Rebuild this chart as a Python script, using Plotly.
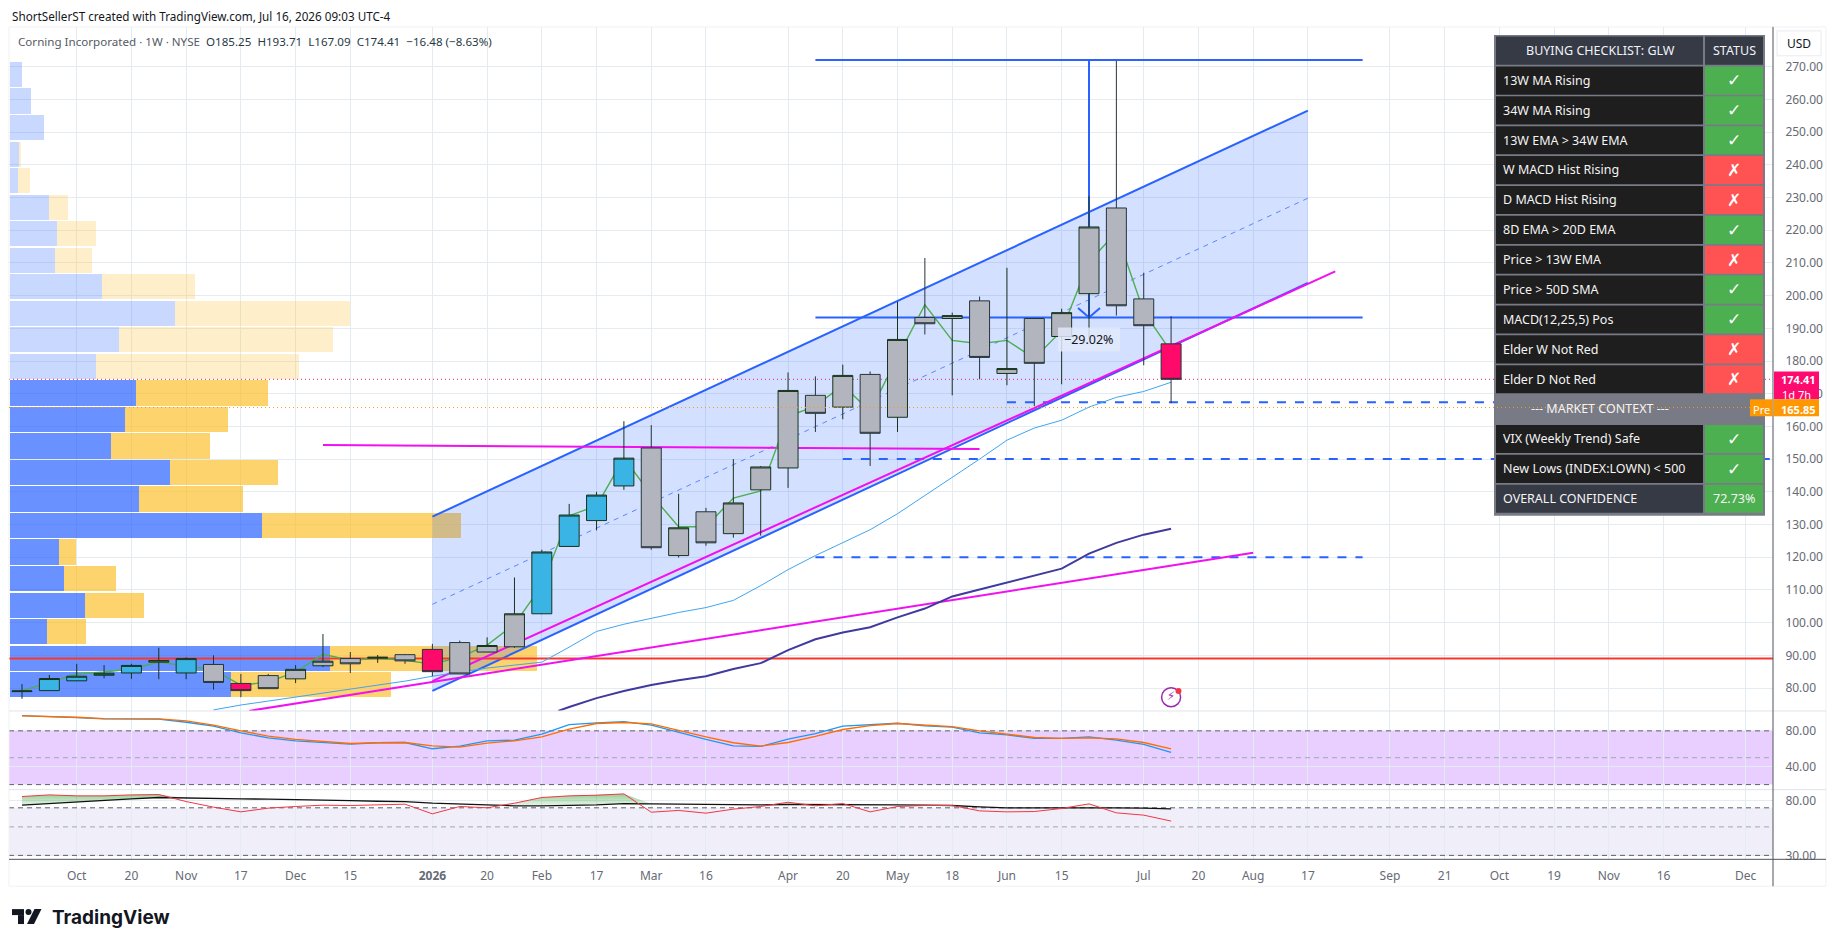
import numpy as np
import plotly.graph_objects as go

W, H = 1819, 929  # page has an 8px body margin
FONT = "Noto Sans"
GRID = "#e4ecf2"
TICK = "#666a75"
BLUE = "#2962ff"
MAGENTA = "#f010f0"

# weekly candles, index 0 is Sep 2025
opens = [78.9, 79.2, 82.2, 83.9, 84.6, 87.9, 84.6, 87.2, 81.4, 83.8, 82.8, 86.8, 89.0, 89.1, 90.2,
         91.8, 93.9, 91.0, 92.6, 102.7, 123.3, 131.2, 141.8, 153.4, 120.5, 133.9, 127.2, 140.6,
         147.3, 169.5, 165.9, 175.9, 162.8, 193.3, 193.0, 198.4, 176.2, 193.0, 187.5, 200.6,
         226.8, 199.0, 185.25]
closes = [79.1, 82.9, 83.6, 84.5, 86.9, 88.4, 89.0, 81.7, 79.2, 79.8, 85.7, 88.2, 87.4, 89.4, 88.3,
          85.0, 84.3, 93.0, 102.7, 121.6, 132.9, 139.0, 150.3, 122.9, 129.0, 124.4, 136.6, 147.6,
          171.0, 164.0, 175.6, 157.9, 186.6, 191.4, 193.9, 181.1, 177.7, 179.3, 194.8, 221.0,
          196.9, 190.8, 174.41]
highs = [81.2, 84.0, 87.4, 87.0, 87.4, 92.3, 89.4, 90.0, 84.3, 84.3, 87.0, 96.5, 91.0, 90.1, 90.4,
         93.5, 94.5, 95.5, 113.8, 122.3, 136.3, 140.0, 161.6, 160.4, 139.4, 135.1, 150.0, 147.9,
         176.5, 175.3, 178.9, 176.8, 198.1, 211.5, 194.8, 199.7, 208.5, 193.0, 196.0, 230.4,
         271.8, 207.0, 193.71]
lows = [76.7, 79.2, 82.1, 83.0, 82.8, 82.7, 82.7, 79.5, 77.2, 79.8, 81.5, 86.4, 84.6, 87.7, 87.4,
        83.6, 84.3, 91.0, 92.3, 102.6, 123.3, 128.2, 140.6, 122.3, 119.9, 123.5, 126.0, 126.6,
        141.2, 158.3, 162.2, 147.9, 158.3, 188.1, 169.5, 174.4, 172.6, 166.2, 172.9, 186.9,
        193.9, 178.7, 167.09]
impulse = ["g", "b", "b", "b", "b", "g", "b", "g", "p", "g", "g", "g", "g", "g", "g", "p", "g", "g",
           "g", "b", "b", "b", "b", "g", "g", "g", "g", "g", "g", "g", "g", "g", "g", "g", "g", "g",
           "g", "g", "g", "g", "g", "g", "p"]

zigzag = [79.1, 81.8, 84.3, 84.9, 85.8, 87.9, 86.7, 85.5, 80.9, 81.8, 84.9, 90.3, 88.5, 89.1, 88.5,
          87.3, 89.4, 93.1, 99.5, 111.3, 132.7, 135.7, 150.3, 139.1, 129.3, 129.3, 138.1, 140.3,
          163.1, 166.2, 172.6, 164.6, 181.1, 197.2, 186.3, 185.3, 186.3, 180.8, 189.3, 210.3,
          219.4, 195.1, 182.9]
ma_fast = [73.3, 74.8, 76.0, 77.2, 78.5, 79.7, 80.9, 82.1, 83.6, 84.9, 86.1, 87.0, 87.9, 92.5, 97.3,
           99.5, 101.3, 103.1, 104.6, 106.8, 111.3, 116.2, 120.5, 124.4, 128.4, 133.3, 138.8,
           144.5, 150.0, 155.8, 159.5, 161.9, 165.9, 168.9, 170.7, 173.5]
ma_slow_x = [19.6, 20, 21, 22, 23, 24, 25, 26, 27, 28, 29, 30, 31, 32, 33, 34, 35, 36, 37, 38, 39, 40,
             41, 42]
ma_slow = [73.0, 74.2, 76.9, 79.1, 80.9, 82.4, 83.6, 85.8, 87.6, 91.6, 94.9, 97.0, 98.6, 101.6, 104.3,
           108.0, 110.1, 112.3, 114.4, 116.5, 121.1, 124.4, 126.9, 128.7]

# volume profile rows, top row first
vp_price = [267.6, 259.5, 251.4, 243.2, 235.1, 227.0, 218.9, 210.8, 202.7, 194.6, 186.5, 178.3,
            170.2, 162.1, 154.0, 145.9, 137.8, 129.7, 121.6, 113.4, 105.3, 97.2, 89.1, 81.0]
vp_up = [12, 21, 34, 8.6, 8, 39, 47, 45, 92, 165, 109, 86, 126, 115, 101, 160, 129, 252, 49, 54, 75,
         37, 320, 221]
vp_down = [0, 0, 0, 2.4, 12, 19, 39, 37, 93, 175, 214, 203, 132, 103, 99, 108, 104, 199, 17, 52, 59,
           39, 207, 160]

# oscillators
stoch_k = [97.0, 96.3, 94.8, 93.3, 93.0, 93.0, 89.6, 85.2, 77.8, 72.2, 68.9, 67.0, 65.2, 66.7, 67.0,
           60.0, 63.0, 68.9, 69.6, 76.3, 87.0, 88.9, 90.4, 86.3, 78.2, 70.4, 63.3, 62.6, 70.7, 77.0,
           85.2, 87.0, 88.5, 85.6, 84.1, 77.8, 75.6, 71.5, 71.5, 73.3, 69.6, 64.8, 55.9]
stoch_d = [96.7, 96.3, 95.2, 93.7, 93.3, 93.3, 91.1, 86.3, 80.0, 74.1, 70.4, 67.8, 65.9, 66.7, 67.0,
           63.3, 61.8, 66.3, 68.9, 73.3, 81.9, 88.2, 89.3, 87.8, 80.4, 73.3, 66.7, 63.0, 67.0, 73.7,
           81.5, 85.9, 88.2, 86.7, 84.8, 80.0, 76.3, 72.6, 71.5, 72.2, 71.1, 67.0, 60.0]
rsi = [83.7, 85.2, 84.3, 84.3, 85.2, 85.5, 79.1, 74.0, 69.7, 73.1, 74.6, 75.8, 75.5, 76.1, 76.7,
       67.9, 74.6, 73.4, 77.6, 82.8, 84.3, 84.9, 86.1, 69.4, 71.0, 68.5, 72.2, 74.6, 78.5, 75.2,
       77.3, 69.7, 74.6, 75.5, 75.5, 70.6, 69.7, 70.0, 72.8, 77.0, 68.8, 66.7, 61.3]
rsi_ma = [75.8, 77.3, 78.8, 80.7, 81.6, 82.8, 82.2, 81.9, 81.6, 81.3, 81.0, 80.3, 80.0, 79.4, 79.1,
          77.6, 76.7, 75.8, 75.2, 75.2, 75.5, 76.1, 77.3, 77.0, 76.7, 76.4, 76.1, 76.1, 76.4, 76.4,
          76.7, 76.4, 76.1, 75.8, 75.5, 74.3, 73.4, 73.4, 73.4, 74.0, 73.4, 73.1, 72.5]

time_ticks = [2, 4, 6, 8, 10, 12, 15, 17, 19, 21, 23, 25, 28, 30, 32, 34, 36, 38, 41, 43, 45, 47,
              50, 52, 54, 56, 58, 60, 63]
time_labels = ["Oct", "20", "Nov", "17", "Dec", "15", "<b>2026</b>", "20", "Feb", "17", "Mar", "16",
               "Apr", "20", "May", "18", "Jun", "15", "Jul", "20", "Aug", "17", "Sep", "21", "Oct",
               "19", "Nov", "16", "Dec"]
price_ticks = list(range(80, 280, 10))

check_labels = ["13W MA Rising", "34W MA Rising", "13W EMA > 34W EMA", "W MACD Hist Rising",
                "D MACD Hist Rising", "8D EMA > 20D EMA", "Price > 13W EMA", "Price > 50D SMA",
                "MACD(12,25,5) Pos", "Elder W Not Red", "Elder D Not Red", "--- MARKET CONTEXT ---",
                "VIX (Weekly Trend) Safe", "New Lows (INDEX:LOWN) < 500", "OVERALL CONFIDENCE"]
check_status = ["✓", "✓", "✓", "✗", "✗", "✓", "✗", "✓", "✓", "✗", "✗", "", "✓", "✓", "72.73%"]


def px(x):
    return (x - 8) / W


def py(y):
    return 1 - (y - 8) / H


def box(x0, y0, x1, y1, fill, line=None, layer="above"):
    return dict(type="rect", xref="paper", yref="paper", x0=px(x0), x1=px(x1), y0=py(y0), y1=py(y1),
                fillcolor=fill, line=dict(color=line or fill, width=1 if line else 0), layer=layer)


def rule(x0, y0, x1, y1, color, width=1, layer="above", dash="solid"):
    return dict(type="line", xref="paper", yref="paper", x0=px(x0), x1=px(x1), y0=py(y0), y1=py(y1),
                line=dict(color=color, width=width, dash=dash), layer=layer)


def label(x, y, text, size=12, color=TICK, anchor="center", family=FONT):
    return dict(xref="paper", yref="paper", x=px(x), y=py(y), text=text, showarrow=False,
                xanchor=anchor, yanchor="middle", font=dict(family=family, size=size, color=color))


fig = go.Figure()

# volume profile sits at the very back
vp_light = [p > closes[-1] for p in vp_price]
fig.add_trace(go.Bar(y=vp_price, x=vp_up, orientation="h", width=7.7, xaxis="x", yaxis="y",
                     marker=dict(line_width=0, color=["rgba(41,98,255,0.25)" if d else "rgba(41,98,255,0.7)" for d in vp_light])))
fig.add_trace(go.Bar(y=vp_price, x=vp_down, orientation="h", width=7.7, xaxis="x", yaxis="y",
                     marker=dict(line_width=0, color=["rgba(251,192,45,0.25)" if d else "rgba(251,192,45,0.7)" for d in vp_light])))


def overlay_line(x, y, color, width=1, dash="solid"):
    fig.add_trace(go.Scatter(x=x, y=y, mode="lines", xaxis="x2", yaxis="y",
                             line=dict(color=color, width=width, dash=dash)))


# regression channel
fig.add_trace(go.Scatter(x=[15, 47, 47, 15, 15], y=[132.4, 256.6, 203.9, 79.1, 132.4], mode="lines",
                         xaxis="x2", yaxis="y", fill="toself", fillcolor="rgba(41,98,255,0.2)",
                         line=dict(width=0)))
overlay_line([15, 47], [132.4, 256.6], BLUE, 2)
overlay_line([15, 47], [79.1, 203.9], BLUE, 2)
overlay_line([15, 47], [105.6, 229.8], "#5b86ff", 1, "5px 5px")

overlay_line([-0.475, 64], [89.0, 89.0], "#f9382d", 2)
overlay_line([-0.475, 64], [174.41, 174.41], "#f0206e", 1, "1px 3px")
overlay_line([29, 49], [272.1, 272.1], BLUE, 2)
overlay_line([29, 49], [193.3, 193.3], BLUE, 2)
overlay_line([39, 39], [272.1, 193.3], BLUE, 2)
overlay_line([38.6, 39, 39.4], [196.2, 193.3, 196.2], BLUE, 2)
overlay_line([36, 60], [167.4, 167.4], BLUE, 2, "9px 9px")
overlay_line([30, 64], [150.0, 150.0], BLUE, 2, "9px 9px")
overlay_line([29, 49], [120.0, 120.0], BLUE, 2, "9px 9px")

overlay_line([15, 48], [82.1, 207.4], MAGENTA, 2)
overlay_line([11, 35], [154.3, 153.1], MAGENTA, 2)
overlay_line([8.3, 45], [73.0, 121.4], MAGENTA, 2)

overlay_line(list(range(7, 43)), ma_fast, "#42a5f0", 1)
overlay_line(ma_slow_x, ma_slow, "#3f3a9e", 2)
overlay_line(list(range(43)), zigzag, "#4caf50", 1.4)

# candles, one trace per body colour
for key, fill in (("g", "#b2b5be"), ("b", "#3ab4e4"), ("p", "#ff0a6a")):
    idx = [i for i, c in enumerate(impulse) if c == key]
    fig.add_trace(go.Candlestick(
        x=idx,
        open=[opens[i] for i in idx], high=[highs[i] for i in idx],
        low=[lows[i] for i in idx], close=[closes[i] for i in idx],
        xaxis="x3", yaxis="y", whiskerwidth=0,
        increasing=dict(fillcolor=fill, line=dict(color="#16331c", width=1)),
        decreasing=dict(fillcolor=fill, line=dict(color="#26343a", width=1)),
    ))

# earnings style marker under the last bar
fig.add_trace(go.Scatter(x=[42], y=[77.2], mode="markers+text", xaxis="x2", yaxis="y", text=["⚡"],
                         textposition="middle center",
                         textfont=dict(family="DejaVu Sans", size=12, color="#9c27b0"),
                         marker=dict(size=19, color="white", line=dict(color="#9c27b0", width=1.5))))
fig.add_trace(go.Scatter(x=[42.27], y=[79.1], mode="markers", xaxis="x2", yaxis="y",
                         marker=dict(size=6, color="#f23645")))

# stochastic pane
x_all = list(range(43))
fig.add_trace(go.Scatter(x=x_all, y=stoch_k, mode="lines", xaxis="x4", yaxis="y2",
                         line=dict(color="#2196f3", width=1.3)))
fig.add_trace(go.Scatter(x=x_all, y=stoch_d, mode="lines", xaxis="x4", yaxis="y2",
                         line=dict(color="#ff6d00", width=1.3)))

# rsi pane, green where rsi is above its average
fig.add_trace(go.Scatter(x=x_all, y=rsi_ma, mode="lines", xaxis="x5", yaxis="y3",
                         line=dict(color="#111111", width=1.3)))
fig.add_trace(go.Scatter(x=x_all, y=np.maximum(rsi, rsi_ma), mode="lines", xaxis="x5", yaxis="y3",
                         fill="tonexty", line=dict(width=0),
                         fillgradient=dict(type="vertical", colorscale=[[0, "rgba(76,175,80,0)"], [1, "rgba(76,175,80,0.6)"]])))
fig.add_trace(go.Scatter(x=x_all, y=rsi, mode="lines", xaxis="x5", yaxis="y3",
                         line=dict(color="#f23645", width=1)))

# price, stochastic and rsi pane geometry in page pixels
x_domain = [px(9), px(1773)]
idx_range = [-0.475, 64]
x_common = dict(domain=x_domain, range=idx_range, tickmode="array", tickvals=time_ticks,
                showgrid=True, gridcolor=GRID, gridwidth=1, zeroline=False, showticklabels=False,
                fixedrange=True)
y_common = dict(side="right", gridcolor=GRID, gridwidth=1, zeroline=False, ticks="outside",
                ticklen=9, tickcolor="rgba(0,0,0,0)", tickformat=".2f",
                tickfont=dict(family=FONT, size=12, color=TICK), fixedrange=True)

fig.update_layout(
    width=W, height=H, margin=dict(l=0, r=0, t=0, b=0),
    paper_bgcolor="white", plot_bgcolor="white", showlegend=False, barmode="stack",
    boxgap=0.27, boxgroupgap=0,
    xaxis=dict(domain=x_domain, range=[-1, 1763], visible=False, fixedrange=True),
    xaxis2=dict(x_common, overlaying="x", anchor="y"),
    xaxis3=dict(x_common, overlaying="x", anchor="y", visible=False, showgrid=False,
                rangeslider=dict(visible=False)),
    xaxis4=dict(x_common, anchor="y2"),
    xaxis5=dict(x_common, anchor="y3", showticklabels=True, ticktext=time_labels, ticks="outside",
                ticklen=5, tickcolor="rgba(0,0,0,0)", tickangle=0,
                tickfont=dict(family=FONT, size=12, color=TICK)),
    yaxis=dict(y_common, domain=[py(714), py(27)], range=[72.98, 282.18], anchor="x",
               tickmode="array", tickvals=price_ticks),
    yaxis2=dict(y_common, domain=[py(793), py(714)], range=[14.4, 102.2], anchor="x4",
                tickmode="array", tickvals=[40, 80]),
    yaxis3=dict(y_common, domain=[py(863), py(793)], range=[26.4, 90], anchor="x5",
                tickmode="array", tickvals=[30, 80]),
)

shapes = [
    # oscillator bands and their levels
    dict(type="rect", xref="x4", yref="y2", x0=-0.475, x1=64, y0=20, y1=80,
         fillcolor="#e9cfff", line_width=0, layer="below"),
    dict(type="rect", xref="x5", yref="y3", x0=-0.475, x1=64, y0=30, y1=73.4,
         fillcolor="#f0eef9", line_width=0, layer="below"),
]
for yref, axis, level, color in (("y2", "x4", 80, "#5d606b"), ("y2", "x4", 50, "#a3a6af"), ("y2", "x4", 20, "#5d606b"),
                                 ("y3", "x5", 73.4, "#5d606b"), ("y3", "x5", 56, "#a3a6af"), ("y3", "x5", 30, "#5d606b")):
    shapes.append(dict(type="line", xref=axis, yref=yref, x0=-0.475, x1=64, y0=level, y1=level,
                       line=dict(color=color, width=1, dash="5px 4px"), layer="between"))

# frame, pane separators, scale lines
shapes += [
    box(9, 27, 1826, 890, "rgba(0,0,0,0)", "#f0f1f3"),
    rule(9, 714, 1826, 714, "#e0e3eb"),
    rule(9, 793, 1826, 793, "#e0e3eb"),
    rule(9, 863, 1826, 863, "#50535e"),
    rule(1773, 27, 1773, 890, "#50535e"),
]

# checklist panel
STATUS_GREEN = "#4caf50"
STATUS_RED = "#ff5252"
ROW_DARK = "#1e1e1e"
ROW_HEAD = "#363a45"
ROW_GREY = "#787b86"
CELL_TEXT = "#f4f4f4"
table_top, row_h = 36.7, 30
shapes.append(box(1494, 35, 1765, 518, ROW_GREY))
shapes.append(box(1496, table_top, 1703, table_top + 28.3, ROW_HEAD))
shapes.append(box(1705, table_top, 1763, table_top + 28.3, ROW_HEAD))
notes = [label(1600, table_top + 14, "BUYING CHECKLIST: GLW", 12.5, "#f0f3fa"),
         label(1734, table_top + 14, "STATUS", 12.5, "#f0f3fa")]
for row, (name, status) in enumerate(zip(check_labels, check_status), start=1):
    top = table_top + row * row_h
    mid = top + 14
    if status == "":
        notes.append(label(1600, mid, name, 12.5, CELL_TEXT))
        continue
    shapes.append(box(1496, top, 1703, top + 28.3, ROW_HEAD if row == len(check_labels) else ROW_DARK))
    shapes.append(box(1705, top, 1763, top + 28.3, STATUS_RED if status == "✗" else STATUS_GREEN))
    notes.append(label(1501, mid, name, 12.5, CELL_TEXT, "left"))
    if status in ("✓", "✗"):
        notes.append(label(1734, mid, f"<b>{status}</b>", 17, "white", family="DejaVu Sans"))
    else:
        notes.append(label(1734, mid, status, 12.5, CELL_TEXT))

# percent box of the measure tool, price tags and currency button
shapes += [
    box(1058, 329, 1120, 353, "rgba(226,233,252,0.85)"),
    box(1774, 373, 1819, 401, "#ff0a6e"),
    box(1774, 401, 1819, 418, "#ff9800"),
    box(1750, 401, 1773, 418, "#ff9800"),
    box(1777, 31, 1821, 56, "white", "#e8eaee"),
    rule(9, 409.3, 1750, 409.3, "#ff9800", 1, dash="1px 3px"),
]
# TradingView mark
shapes += [
    box(12, 913, 24, 919, "#131722"),
    box(18, 919, 24, 928, "#131722"),
    dict(type="circle", xref="paper", yref="paper", x0=px(25.5), x1=px(31.5), y0=py(913), y1=py(919),
         fillcolor="#131722", line_width=0, layer="above"),
    dict(type="path", xref="paper", yref="paper", layer="above", fillcolor="#131722", line_width=0,
         path=f"M {px(34.5)} {py(913)} L {px(41.5)} {py(913)} L {px(34)} {py(928)} L {px(27)} {py(928)} Z"),
]
fig.update_layout(shapes=shapes)

dark = "#1f3a44"
fig.update_layout(annotations=notes + [
    label(10, 16, "ShortSellerST created with TradingView.com, Jul 16, 2026 09:03 UTC-4", 11.7, "#131722", "left"),
    label(16, 42, f"Corning Incorporated · 1W · NYSE  <span style='color:{dark}'>O185.25  H193.71  L167.09  C174.41  −16.48 (−8.63%)</span>",
          11.6, "#555a64", "left"),
    label(1089, 341, "−29.02%", 12.5, "#131722"),
    label(1799, 44, "USD", 12, "#131722"),
    label(1798, 381, "<b>174.41</b>", 11, "white"),
    label(1796, 396, "1d 7h", 11, "white"),
    label(1798, 411, "<b>165.85</b>", 11, "white"),
    label(1761, 411, "Pre", 11, "white"),
    label(50, 921, "<b>TradingView</b>", 19, "#131722", "left", "Inter"),
])

fig.write_html("out.html")
